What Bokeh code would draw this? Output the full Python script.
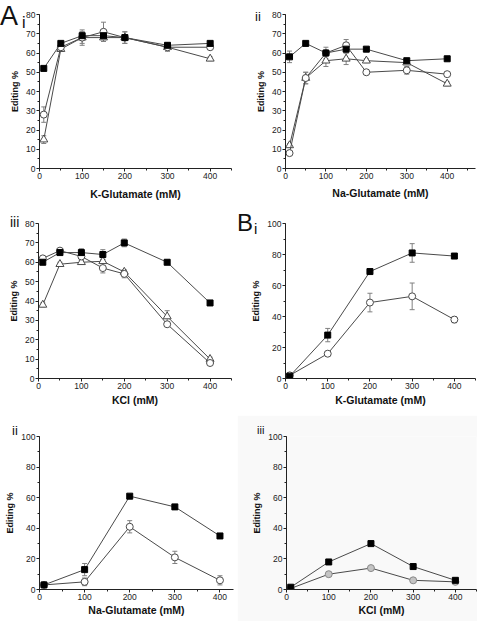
from bokeh.plotting import figure
from bokeh.models import Range1d, SingleIntervalTicker, Whisker, ColumnDataSource, TeeHead, Div
from bokeh.layouts import column, row
from bokeh.embed import file_html
from bokeh.resources import INLINE

FONT = "Liberation Sans"

# ---------------- data ----------------
a_conc = [10, 50, 100, 150, 200, 300, 400]
b_conc = [10, 100, 200, 300, 400]

# A i  (K-Glutamate)
ai_sq = [52, 65, 69, 69, 68, 64, 65]
ai_sq_err = [1, 1, 2, 1, 1, 1, 1]
ai_circ = [28, 63, 68, 71, 68, 63, 63]
ai_circ_err = [4, 1, 4, 5, 3, 2, 1]
ai_tri = [15, 62, 68, 68, 68, 63, 57]
ai_tri_err = [2, 1, 3, 2, 3, 2, 1]

# A ii (Na-Glutamate)
aii_sq = [58, 65, 60, 62, 62, 56, 57]
aii_sq_err = [3, 1, 1, 2, 1, 1, 1]
aii_circ = [8, 47, 60, 64, 50, 51, 49]
aii_circ_err = [1, 3, 3, 3, 1, 2, 1]
aii_tri = [12, 47, 56, 57, 56, 55, 44]
aii_tri_err = [1, 3, 3, 3, 1, 1, 1]

# A iii (KCl)
aiii_sq = [60, 65, 65, 64, 70, 60, 39]
aiii_sq_err = [1, 1, 2, 2.5, 2, 1, 1]
aiii_circ = [62, 66, 63, 57, 54, 28, 8]
aiii_circ_err = [1, 1, 2, 2.5, 2, 1, 1]
aiii_tri = [38, 59, 60, 60.5, 55, 32, 10]
aiii_tri_err = [1, 1, 1, 1, 1, 3, 1]

# B i (K-Glutamate)
bi_sq = [1.5, 28, 69, 81, 79]
bi_sq_err = [0.5, 4.3, 1, 6, 1]
bi_circ = [2, 16, 49, 53, 38]
bi_circ_err = [0.5, 1, 6, 8.6, 2]

# B ii (Na-Glutamate)
bii_sq = [3, 13, 61, 54, 35]
bii_sq_err = [0.5, 4, 1, 1.5, 1]
bii_circ = [3, 5, 41, 21, 6]
bii_circ_err = [0.5, 2.5, 4, 4, 3]

# B iii (KCl)
biii_sq = [1.5, 18, 30, 15, 6]
biii_circ = [0.7, 10, 14, 6, 5]

# panel letters: (text, left px, baseline px, font px)
panel_letters = [
    ("A", 0, 26, 27), ("i", 22, 28, 16),
    ("ii", 255, 21, 13),
    ("iii", 10, 227, 14),
    ("B", 237, 231, 24), ("i", 254, 234, 15),
    ("ii", 12, 435, 13),
    ("iii", 257, 434, 11),
]

LINE = "#4a4a4a"
ERR = "#808080"


def make_fig(w, h, bl, bt, bb, br, xmax, ymax, ystep, xlabel, xstand, bg="white"):
    p = figure(width=w, height=h, x_range=Range1d(0, xmax), y_range=Range1d(0, ymax),
               output_backend="svg", toolbar_location=None,
               min_border_left=bl, min_border_top=bt, min_border_bottom=bb, min_border_right=br,
               background_fill_color=bg, border_fill_color=bg, outline_line_color=None)
    p.grid.visible = False
    p.xaxis.ticker = SingleIntervalTicker(interval=100, num_minor_ticks=2)
    p.yaxis.ticker = SingleIntervalTicker(interval=ystep, num_minor_ticks=2)
    p.xaxis.axis_label = xlabel
    p.yaxis.axis_label = "Editing %"
    for ax in (p.xaxis[0], p.yaxis[0]):
        ax.axis_line_color = "#222222"
        ax.axis_line_width = 1
        ax.major_tick_line_color = "#222222"
        ax.minor_tick_line_color = "#222222"
        ax.major_tick_out = 3
        ax.major_tick_in = 0
        ax.minor_tick_out = 2
        ax.minor_tick_in = 0
        ax.major_label_text_font = FONT
        ax.major_label_text_font_size = "8.5px"
        ax.major_label_text_color = "#222222"
        ax.major_label_standoff = 1
        ax.axis_label_text_font = FONT
        ax.axis_label_text_font_style = "bold"
        ax.axis_label_text_color = "#111111"
    p.xaxis.axis_label_text_font_size = "10.5px"
    p.xaxis.axis_label_standoff = xstand
    p.yaxis.axis_label_text_font_size = "9px"
    p.yaxis.axis_label_standoff = 3
    return p


def series(p, x, y, err, marker, size, fill, edge=LINE):
    if err is not None:
        lo = [v - e for v, e in zip(y, err)]
        up = [v + e for v, e in zip(y, err)]
        src = ColumnDataSource(dict(x=x, lo=lo, up=up))
        w = Whisker(source=src, base="x", lower="lo", upper="up", line_color=ERR, line_width=1,
                    upper_head=TeeHead(size=5, line_color=ERR, line_width=1),
                    lower_head=TeeHead(size=5, line_color=ERR, line_width=1), level="underlay")
        p.add_layout(w)
    p.line(x, y, line_color=LINE, line_width=1)
    p.scatter(x, y, marker=marker, size=size, fill_color=fill, line_color=edge, line_width=1)


# ---- Row 1 (page y 0-208) ----
p1 = make_fig(237, 208, 39, 12, 40, 6, 450, 80, 10, "K-Glutamate (mM)", 6)
series(p1, a_conc, ai_tri, ai_tri_err, "triangle", 8, "white")
series(p1, a_conc, ai_circ, ai_circ_err, "circle", 7, "white")
series(p1, a_conc, ai_sq, ai_sq_err, "square", 6, "black", "black")

p2 = make_fig(240, 208, 48, 14, 39, 2, 470, 80, 10, "Na-Glutamate (mM)", 5)
series(p2, a_conc, aii_tri, aii_tri_err, "triangle", 8, "white")
series(p2, a_conc, aii_circ, aii_circ_err, "circle", 7, "white")
series(p2, a_conc, aii_sq, aii_sq_err, "square", 6, "black", "black")

# ---- Row 2 (page y 208-415) ----
p3 = make_fig(237, 207, 38, 15, 36, 6, 450, 80, 10, "KCl (mM)", 2)
series(p3, a_conc, aiii_tri, aiii_tri_err, "triangle", 8, "white")
series(p3, a_conc, aiii_circ, aiii_circ_err, "circle", 7, "white")
series(p3, a_conc, aiii_sq, aiii_sq_err, "square", 6, "black", "black")

p4 = make_fig(240, 207, 48, 15, 37, 2, 450, 100, 20, "K-Glutamate (mM)", 2)
series(p4, b_conc, bi_circ, bi_circ_err, "circle", 7, "white")
series(p4, b_conc, bi_sq, bi_sq_err, "square", 6, "black", "black")

# ---- Row 3 (page y 415-621) ----
p5 = make_fig(237, 206, 39, 20, 30, 4, 430, 100, 20, "Na-Glutamate (mM)", 1)
series(p5, b_conc, bii_circ, bii_circ_err, "circle", 7, "white")
series(p5, b_conc, bii_sq, bii_sq_err, "square", 6, "black", "black")

p6 = make_fig(240, 206, 49, 21, 32, 1, 450, 100, 20, "KCl (mM)", 1, bg="#f9f9f9")
series(p6, b_conc, biii_circ, None, "circle", 7, "#c4c4c4", "#888888")
series(p6, b_conc, biii_sq, None, "square", 6, "black", "black")

# panel letters as an overlay of absolutely positioned text
spans = []
for t, lx, base, fs in panel_letters:
    top = base - 0.846 * fs
    spans.append(
        f'<span style="position:absolute;left:{lx}px;top:{top:.1f}px;font-family:\'{FONT}\';'
        f'font-size:{fs}px;line-height:1;color:#111111;white-space:nowrap">{t}</span>')
letters = Div(text="".join(spans), width=477, height=0, margin=0,
              styles={"position": "relative", "overflow": "visible", "z-index": "10"})

layout = column(letters, row(p1, p2), row(p3, p4), row(p5, p6), spacing=0)

open("out.html", "w").write(file_html(layout, INLINE))
